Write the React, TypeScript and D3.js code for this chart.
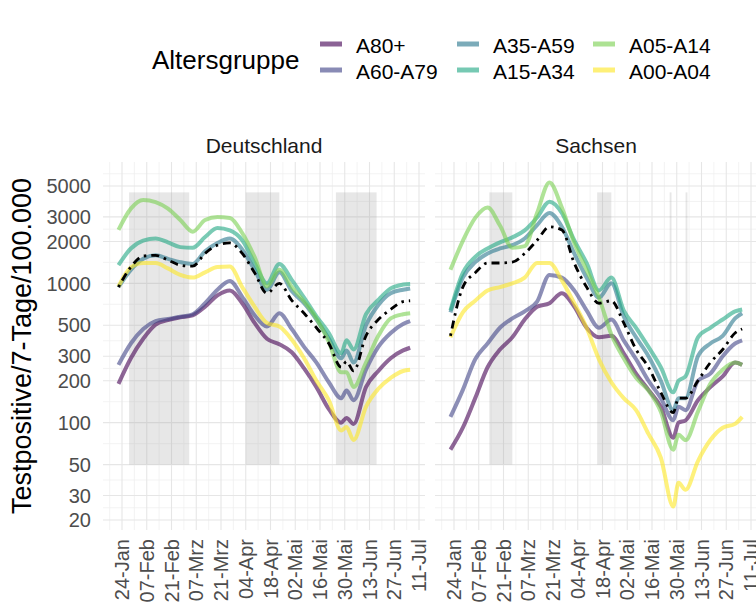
import React from "react";
import * as d3 from "d3";

// ---------- data ----------
const dates = ["2022-01-22","2022-01-29","2022-02-05","2022-02-12","2022-02-19","2022-02-26","2022-03-05","2022-03-12","2022-03-19","2022-03-26","2022-04-02","2022-04-09","2022-04-16","2022-04-23","2022-04-30","2022-05-07","2022-05-14","2022-05-21","2022-05-28","2022-05-31","2022-06-04","2022-06-11","2022-06-18","2022-06-25","2022-07-02","2022-07-06"];

const groups = ["A80+", "A60-A79", "A35-A59", "A15-A34", "A05-A14", "A00-A04"];
const groupColors = ["#440154", "#414487", "#2A788E", "#22A884", "#7AD151", "#FDE725"];
const panelNames = ["Deutschland", "Sachsen"];

// Deutschland
const deA80 = [190,290,400,505,545,570,590,680,820,890,720,520,400,365,320,245,180,125,100,108,98,180,235,290,330,345];
const deA60 = [260,370,470,535,555,575,600,720,900,1040,800,590,490,610,470,350,270,195,150,170,145,240,350,440,510,535];
const deA35 = [940,1250,1500,1590,1500,1420,1380,1700,1950,2100,1750,1250,900,1200,880,720,550,400,290,330,270,500,700,850,900,920];
const deA15 = [1350,1780,2030,2100,1970,1820,1800,2150,2500,2400,2040,1400,1000,1380,1060,790,580,440,315,390,335,600,760,920,980,990];
const deA05 = [2420,3440,3970,3830,3440,2850,2350,2850,3000,2950,2300,1550,950,1250,940,740,560,380,230,230,180,270,420,560,600,610];
const deA00 = [950,1300,1400,1400,1280,1150,1100,1200,1310,1320,940,680,520,490,395,290,200,145,88,93,75,130,175,210,235,240];
const deTotal = [940,1310,1570,1590,1470,1350,1330,1640,1880,1950,1640,1190,850,1000,755,610,480,370,250,275,235,420,550,650,740,750];

// Sachsen
const snA80 = [64,92,150,250,335,410,550,680,720,850,680,480,410,420,315,225,172,130,78,100,104,145,180,215,270,260];
const snA60 = [110,172,285,370,480,560,630,740,1150,1100,890,640,480,550,390,285,200,150,104,130,123,200,225,300,370,390];
const snA35 = [620,1100,1420,1640,1780,1880,2100,2620,3200,2550,1640,1100,790,1000,580,410,300,200,123,150,150,300,370,420,560,610];
const snA15 = [640,1190,1550,1780,1970,2140,2400,2970,3850,3200,2040,1400,890,1100,640,480,350,250,165,200,215,410,480,550,630,650];
const snA05 = [1250,2020,2950,3500,2600,1800,1850,3200,5300,3500,1950,1250,790,430,290,210,170,120,64,82,75,120,190,240,270,260];
const snA00 = [410,620,750,890,940,1000,1100,1400,1400,1050,720,480,285,195,150,123,83,56,25,37,33,53,75,92,98,110];
const snTotal = [420,940,1190,1400,1400,1420,1640,2040,2550,2420,1400,940,720,750,520,335,250,165,118,150,150,200,270,335,440,470];

const deHolidays = [["2022-01-28","2022-03-03"],["2022-04-04","2022-04-23"],["2022-05-25","2022-06-17"]];
const snHolidays = [["2022-02-13","2022-02-26"],["2022-04-15","2022-04-23"],["2022-05-26","2022-05-27"],["2022-06-04","2022-06-05"]];
const holidayRange = [50, 4500];

const yBreaks = [20, 30, 50, 100, 200, 300, 500, 1000, 2000, 3000, 5000];
const xTickDates = ["2022-01-24","2022-02-07","2022-02-21","2022-03-07","2022-03-21","2022-04-04","2022-04-18","2022-05-02","2022-05-16","2022-05-30","2022-06-13","2022-06-27","2022-07-11"];
const xTickLabels = ["24-Jan","07-Feb","21-Feb","07-Mrz","21-Mrz","04-Apr","18-Apr","02-Mai","16-Mai","30-Mai","13-Jun","27-Jun","11-Jul"];

// ---------- layout ----------
const W = 756, H = 608;
const panelLeft = [103, 435];
const panelW = 322;
const top = 162, bottom = 530;
const FONT = "'Liberation Sans', Arial, Helvetica, sans-serif";

const parse = d3.timeParse("%Y-%m-%d");

export default function App() {
  const x = d3.scaleTime()
    .domain([parse(xTickDates[0])!, parse(xTickDates[xTickDates.length - 1])!])
    .range([19, 316]);
  const y = d3.scaleLog().domain([16.96, 7434]).range([bottom, top]);
  const parsed = dates.map((d) => parse(d)!);

  const line = d3.line<number>()
    .x((_, i) => x(parsed[i]))
    .y((v) => y(v))
    .curve(d3.curveMonotoneX);

  const panelData = [
    { groups: [deA80, deA60, deA35, deA15, deA05, deA00], total: deTotal, hol: deHolidays },
    { groups: [snA80, snA60, snA35, snA15, snA05, snA00], total: snTotal, hol: snHolidays },
  ];

  // minor y breaks (midpoints in log space, ggplot-style extension)
  const lb = yBreaks.map(Math.log10);
  const bd = lb[1] - lb[0];
  const ext = [lb[0] - bd, ...lb, lb[lb.length - 1] + bd];
  const yMinor: number[] = [];
  for (let i = 0; i < ext.length - 1; i++) {
    const v = Math.pow(10, (ext[i] + ext[i + 1]) / 2);
    if (v > 16.96 && v < 7434) yMinor.push(v);
  }
  const xMajor = xTickDates.map((d) => parse(d)!);
  const xMinor = [...xMajor.map((d) => d3.timeDay.offset(d, -7)), d3.timeDay.offset(xMajor[xMajor.length - 1], 7)]
    .filter((d) => x(d) >= 0 && x(d) <= panelW);

  return (
    <svg width={W} height={H} style={{ position: "absolute", left: 0, top: 0, background: "#fff" }} fontFamily={FONT}>
      <rect x={0} y={0} width={W} height={H} fill="#ffffff" />
      {/* legend */}
      <text x={152} y={69} fontSize={26} fill="#000">Altersgruppe</text>
      {groups.map((g, i) => {
        const col = Math.floor(i / 2);
        const row = i % 2;
        const kx = [320, 457, 593][col];
        const ky = [44, 70][row];
        return (
          <g key={g}>
            <line x1={kx} x2={kx + 22} y1={ky} y2={ky} stroke={groupColors[i]} strokeOpacity={0.62} strokeWidth={5} />
            <text x={kx + 36} y={ky + 9} fontSize={21} fill="#000">{g}</text>
          </g>
        );
      })}

      {/* y axis title */}
      <text transform={`translate(31,346) rotate(-90)`} textAnchor="middle" fontSize={27} fill="#000">Testpositive/7-Tage/100.000</text>

      {/* y tick labels */}
      {yBreaks.map((b) => (
        <text key={b} x={91} y={y(b)} dy="0.36em" textAnchor="end" fontSize={20} fill="#4d4d4d">{b}</text>
      ))}

      {panelNames.map((name, p) => {
        const px = panelLeft[p];
        const pd = panelData[p];
        return (
          <g key={name} transform={`translate(${px},0)`}>
            {/* grid */}
            {yMinor.map((v, i) => (
              <line key={"ym" + i} x1={0} x2={panelW} y1={y(v)} y2={y(v)} stroke="#f0f0f0" strokeWidth={0.8} />
            ))}
            {xMinor.map((d, i) => (
              <line key={"xm" + i} x1={x(d)} x2={x(d)} y1={top} y2={bottom} stroke="#f0f0f0" strokeWidth={0.8} />
            ))}
            {yBreaks.map((v) => (
              <line key={"yM" + v} x1={0} x2={panelW} y1={y(v)} y2={y(v)} stroke="#e6e6e6" strokeWidth={1.1} />
            ))}
            {xMajor.map((d, i) => (
              <line key={"xM" + i} x1={x(d)} x2={x(d)} y1={top} y2={bottom} stroke="#e6e6e6" strokeWidth={1.1} />
            ))}
            {/* holidays */}
            {pd.hol.map((h, i) => {
              const x0 = x(parse(h[0])!);
              const x1 = x(parse(h[1])!);
              return (
                <rect key={"h" + i} x={x0} width={Math.max(1.8, x1 - x0)} y={y(holidayRange[1])}
                  height={y(holidayRange[0]) - y(holidayRange[1])} fill="#9a9a9a" fillOpacity={0.24} />
              );
            })}
            {/* series */}
            {pd.groups.map((vals, i) => (
              <path key={groups[i]} d={line(vals) || ""} fill="none" stroke={groupColors[i]}
                strokeOpacity={0.6} strokeWidth={4} strokeLinejoin="round" />
            ))}
            <path d={line(pd.total) || ""} fill="none" stroke="#000" strokeWidth={2.8}
              strokeDasharray="2.5,5,8,5" />
            {/* strip title */}
            <text x={panelW / 2} y={153} textAnchor="middle" fontSize={21} fill="#1a1a1a">{name}</text>
            {/* x tick labels */}
            {xMajor.map((d, i) => (
              <text key={"xl" + i} transform={`translate(${x(d)},539) rotate(-90)`} dy="0.36em"
                textAnchor="end" fontSize={20} fill="#4d4d4d">{xTickLabels[i]}</text>
            ))}
          </g>
        );
      })}
    </svg>
  );
}
